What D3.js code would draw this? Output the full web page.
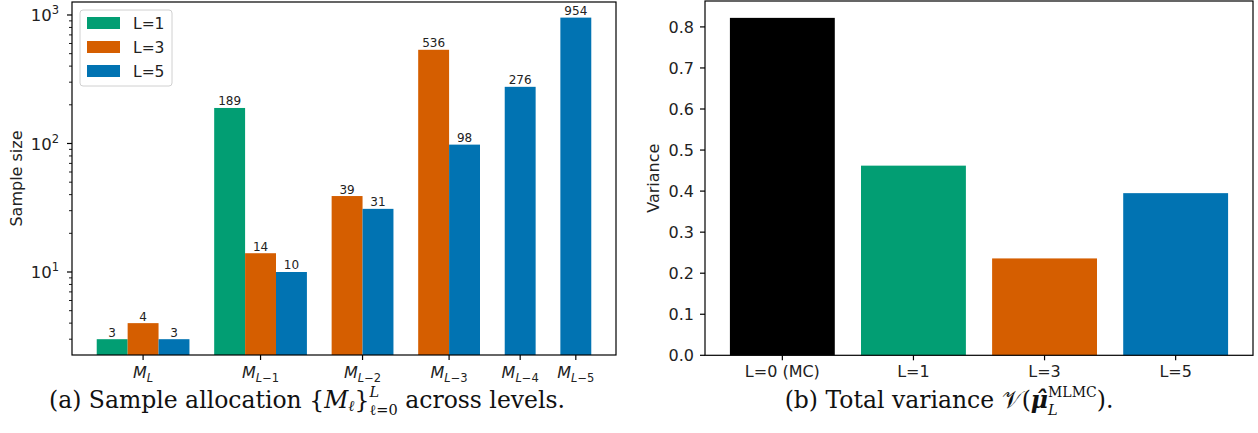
<!DOCTYPE html>
<html><head><meta charset="utf-8">
<script src="https://cdn.jsdelivr.net/npm/d3@7"></script>
<style>
body{margin:0;background:#fff;}
</style></head>
<body><svg id="c" width="1258" height="433" font-family="DejaVu Sans"></svg>
<script>
// ---- data ----
const groups = ["L", "L\u22121", "L\u22122", "L\u22123", "L\u22124", "L\u22125"];
const seriesNames = ["L=1", "L=3", "L=5"];
const seriesL1 = [3, 189, null, null, null, null];
const seriesL3 = [4, 14, 39, 536, null, null];
const seriesL5 = [3, 10, 31, 98, 276, 954];
const logTicks = [10, 100, 1000];
const varCategories = ["L=0 (MC)", "L=1", "L=3", "L=5"];
const varValues = [0.822, 0.462, 0.236, 0.395];
const varTicks = [0.0, 0.1, 0.2, 0.3, 0.4, 0.5, 0.6, 0.7, 0.8];

const colors = ["#029e73", "#d55e00", "#0173b2"];
const varColors = ["#000000", "#029e73", "#d55e00", "#0173b2"];
const SANS = "DejaVu Sans";
const SERIF = "DejaVu Serif";
const TF = 16;

const svg = d3.select("#c");
svg.append("rect").attr("width",1258).attr("height",433).attr("fill","#fff");

// ---- left chart ----
const L = {x0:72, x1:616, y0:2, y1:355};
const allSeries = [seriesL1, seriesL3, seriesL5];
const gap = 0.8;
let cursor = gap;
const bars = [], tickPos = [];
groups.forEach((g, i) => {
  const present = allSeries.map((s, k) => ({k, v: s[i]})).filter(d => d.v != null);
  present.forEach((d, j) => bars.push({x: cursor + j, v: d.v, k: d.k}));
  tickPos.push({g, x: cursor + present.length / 2});
  cursor += present.length + gap;
});
const xL = d3.scaleLinear().domain([0, cursor]).range([L.x0, L.x1]);
const yL = d3.scaleLog().domain([2.26, 1262]).range([L.y1, L.y0]);
const gL = svg.append("g").attr("font-family", SANS);
gL.selectAll("rect.bar").data(bars).join("rect")
  .attr("x", d => xL(d.x)).attr("width", xL(1) - xL(0))
  .attr("y", d => yL(d.v)).attr("height", d => L.y1 - yL(d.v))
  .attr("fill", d => colors[d.k]);
gL.selectAll("text.bl").data(bars).join("text")
  .attr("x", d => xL(d.x + 0.5)).attr("y", d => yL(d.v) - 2.5)
  .attr("text-anchor","middle").attr("font-size",12).attr("fill","#222")
  .text(d => d.v);
const minor = [];
for (let e = 0; e <= 3; e++) for (let m = 2; m <= 9; m++) {
  const v = m * Math.pow(10, e);
  if (v >= 2.26 && v <= 1262) minor.push(v);
}
gL.selectAll("line.mn").data(minor).join("line")
  .attr("x1", L.x0 - 3).attr("x2", L.x0).attr("y1", d => yL(d)).attr("y2", d => yL(d))
  .attr("stroke","#000").attr("stroke-width",0.9);
gL.selectAll("line.mj").data(logTicks).join("line")
  .attr("x1", L.x0 - 5).attr("x2", L.x0).attr("y1", d => yL(d)).attr("y2", d => yL(d))
  .attr("stroke","#000").attr("stroke-width",1.2);
const ytl = gL.selectAll("text.yt").data(logTicks).join("text")
  .attr("x", L.x0 - 13).attr("y", d => yL(d) + 6.2).attr("text-anchor","end")
  .attr("font-size",16.5).attr("fill","#222");
ytl.append("tspan").text("10");
ytl.append("tspan").attr("dy",-7).attr("font-size",11.5).text(d => Math.round(Math.log10(d)));
gL.selectAll("line.xt").data(tickPos).join("line")
  .attr("x1", d => xL(d.x)).attr("x2", d => xL(d.x)).attr("y1", L.y1).attr("y2", L.y1 + 5)
  .attr("stroke","#000").attr("stroke-width",1.2);
const xtl = gL.selectAll("text.xl").data(tickPos).join("text")
  .attr("x", d => xL(d.x)).attr("y", L.y1 + 23).attr("text-anchor","middle")
  .attr("font-size",TF).attr("fill","#222");
xtl.append("tspan").attr("font-style","italic").text("M");
xtl.append("tspan").attr("dy",3.5).attr("font-size",11.5).each(function(d){
  const t = d3.select(this);
  t.append("tspan").attr("font-style","italic").text("L");
  if (d.g.length > 1) t.append("tspan").text(d.g.slice(1));
});
gL.append("rect").attr("x",L.x0).attr("y",L.y0).attr("width",L.x1-L.x0).attr("height",L.y1-L.y0)
  .attr("fill","none").attr("stroke","#000").attr("stroke-width",1.2);
gL.append("text").attr("transform",`translate(22,${(L.y0+L.y1)/2}) rotate(-90)`)
  .attr("text-anchor","middle").attr("font-size",TF).attr("fill","#222").text("Sample size");
const lg = gL.append("g");
lg.append("rect").attr("x",80).attr("y",10).attr("width",92).attr("height",76).attr("rx",3)
  .attr("fill","#fff").attr("fill-opacity",0.8).attr("stroke","#d0d0d0").attr("stroke-width",1);
seriesNames.forEach((n, i) => {
  const cy = 23 + i * 24;
  lg.append("rect").attr("x",87).attr("y",cy-6).attr("width",33).attr("height",12).attr("fill",colors[i]);
  lg.append("text").attr("x",133).attr("y",cy+5.5).attr("font-size",15.5).attr("fill","#222").text(n);
});

// ---- right chart ----
const R = {x0:705, x1:1253, y0:1, y1:355.3};
const xR = d3.scaleLinear().domain([-0.59, varCategories.length - 1 + 0.59]).range([R.x0, R.x1]);
const yR = d3.scaleLinear().domain([0, d3.max(varValues) * 1.05]).range([R.y1, R.y0]);
const gR = svg.append("g").attr("font-family", SANS);
gR.selectAll("rect").data(varValues).join("rect")
  .attr("x", (d,i) => xR(i - 0.4)).attr("width", xR(0.8) - xR(0))
  .attr("y", d => yR(d)).attr("height", d => R.y1 - yR(d))
  .attr("fill", (d,i) => varColors[i]);
gR.selectAll("line.yt").data(varTicks).join("line")
  .attr("x1", R.x0 - 5).attr("x2", R.x0).attr("y1", d => yR(d)).attr("y2", d => yR(d))
  .attr("stroke","#000").attr("stroke-width",1.2);
gR.selectAll("text.yt").data(varTicks).join("text")
  .attr("x", R.x0 - 11).attr("y", d => yR(d) + 5.8).attr("text-anchor","end")
  .attr("font-size",TF).attr("fill","#222").text(d => d.toFixed(1));
gR.selectAll("line.xt").data(varCategories).join("line")
  .attr("x1", (d,i) => xR(i)).attr("x2", (d,i) => xR(i)).attr("y1", R.y1).attr("y2", R.y1 + 5)
  .attr("stroke","#000").attr("stroke-width",1.2);
gR.selectAll("text.xt").data(varCategories).join("text")
  .attr("x", (d,i) => xR(i)).attr("y", R.y1 + 22).attr("text-anchor","middle")
  .attr("font-size",TF).attr("fill","#222").text(d => d);
gR.append("rect").attr("x",R.x0).attr("y",R.y0).attr("width",R.x1-R.x0).attr("height",R.y1-R.y0)
  .attr("fill","none").attr("stroke","#000").attr("stroke-width",1.2);
gR.append("text").attr("transform",`translate(659,${(R.y0+R.y1)/2}) rotate(-90)`)
  .attr("text-anchor","middle").attr("font-size",TF).attr("fill","#222").text("Variance");

// ---- captions (laid out piece by piece) ----
function caption(cx, base, fs, pieces) {
  const g = svg.append("g").attr("font-family", SERIF).attr("fill", "#111");
  let x = 0, prevStart = 0;
  const items = [];
  pieces.forEach(p => {
    const t = g.append("text").attr("font-size", p.fs || fs)
      .attr("font-style", p.it ? "italic" : "normal")
      .attr("font-weight", p.b ? "bold" : "normal").text(p.t);
    const w = t.node().getComputedTextLength();
    const px = p.stack ? prevStart : x;
    items.push({t, px, dy: p.dy || 0});
    if (p.stack) { x = Math.max(x, px + w); }
    else { prevStart = px; x = px + w; }
  });
  const x0 = cx - x / 2;
  items.forEach(it => it.t.attr("x", x0 + it.px).attr("y", base + it.dy));
}
caption(307, 407.5, 23.5, [
  {t:"(a) Sample allocation {"},
  {t:"M", it:true},
  {t:"\u2113", fs:15, it:true, dy:3.5},
  {t:"}"},
  {t:"L", fs:14.5, it:true, dy:-11},
  {t:"\u2113=0", fs:14.5, dy:7, stack:true},
  {t:"\u00a0across levels."}
]);
caption(949, 407.5, 23.5, [
  {t:"(b) Total variance\u00a0"},
  {t:"\ud835\udcb1"},
  {t:"("},
  {t:"\u03bc\u0302", it:true, b:true},
  {t:"MLMC", fs:14, dy:-11},
  {t:"L", fs:14.5, it:true, dy:7, stack:true},
  {t:")."}
]);
</script></body></html>
